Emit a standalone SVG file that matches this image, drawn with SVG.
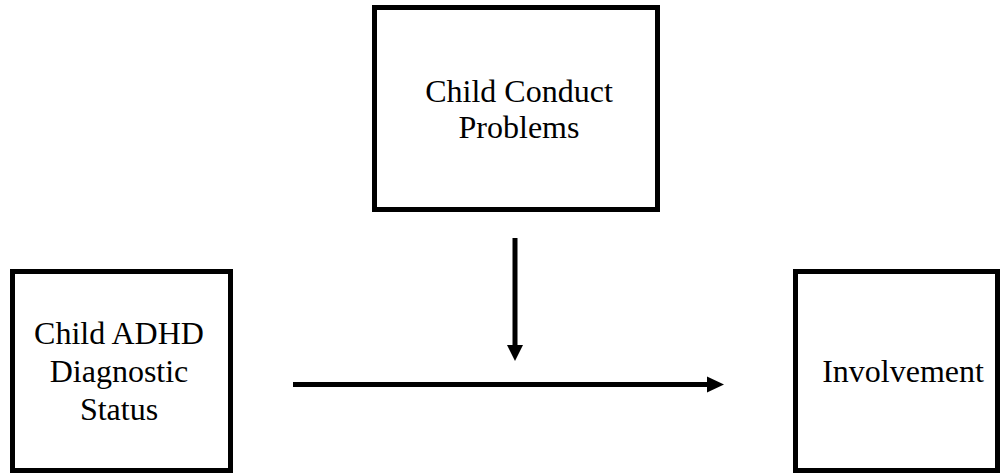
<svg xmlns="http://www.w3.org/2000/svg" width="1001" height="474" viewBox="0 0 1001 474">
<style>
.box{fill:#fff;stroke:#000;stroke-width:5}
.lbl{font-family:"Liberation Serif","Times New Roman",serif;font-size:32px;fill:#000;text-anchor:middle}
.ln{stroke:#000;stroke-width:5;fill:none}
</style>
<rect width="1001" height="474" fill="#fff"/>
<g id="conduct">
<rect class="box" x="374.5" y="7.5" width="283" height="202"/>
<text class="lbl" x="519" y="102">Child Conduct</text>
<text class="lbl" x="519" y="138">Problems</text>
</g>
<g id="adhd">
<rect class="box" x="12.5" y="271.5" width="218" height="199"/>
<text class="lbl" x="119" y="344">Child ADHD</text>
<text class="lbl" x="119" y="382">Diagnostic</text>
<text class="lbl" x="119" y="420">Status</text>
</g>
<g id="involvement">
<rect class="box" x="795.5" y="271.5" width="202" height="199"/>
<text class="lbl" x="903" y="382">Involvement</text>
</g>
<g id="connectors">
<line class="ln" x1="293" y1="384.5" x2="710" y2="384.5"/>
<polygon points="707,376.5 724,384.5 707,392.5" fill="#000"/>
<line class="ln" x1="515" y1="238" x2="515" y2="347"/>
<polygon points="507,345 523,345 515,361" fill="#000"/>
</g>
</svg>
